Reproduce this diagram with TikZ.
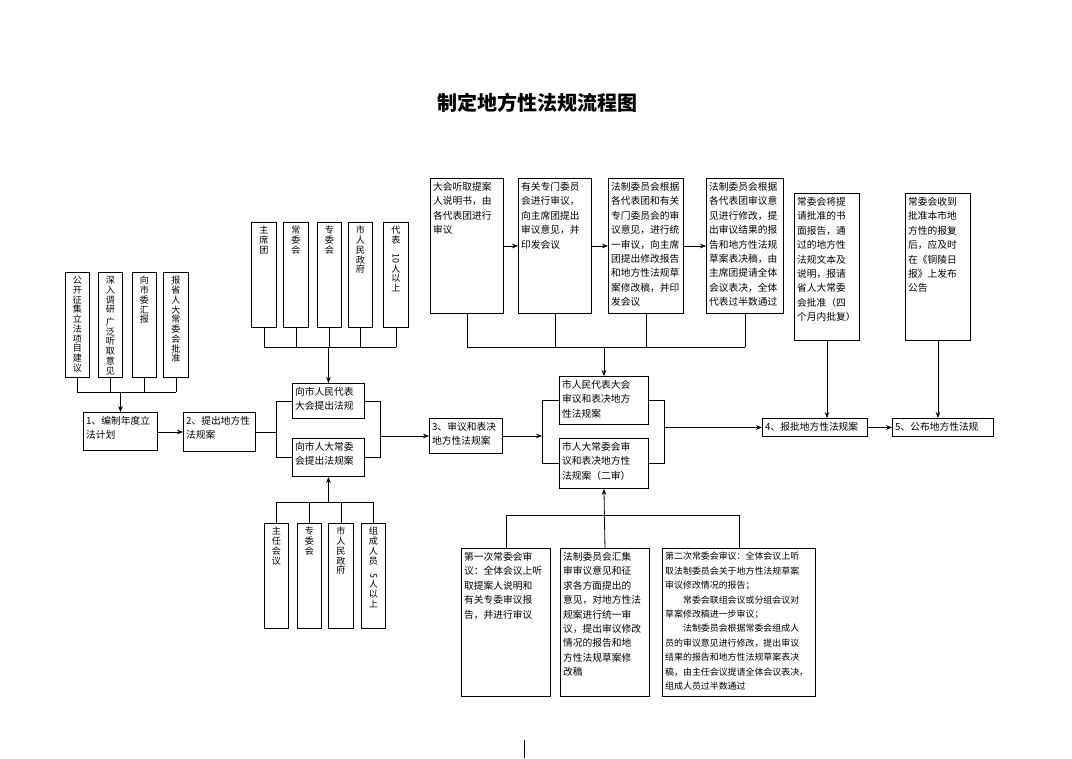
\documentclass[tikz,border=0pt]{standalone}
\usepackage{fontspec}
\setmainfont{Noto Sans CJK SC}
\usepackage{graphicx}
\usetikzlibrary{arrows.meta}
\newcommand\tb[6]{%
\pgfmathsetmacro\bw{(#4-#2)*0.75}\pgfmathsetmacro\bh{(#5-#3)*0.75}\pgfmathsetmacro\tw{(#4-#2)*0.75-4}%
\node[bx,anchor=north west,minimum width=\bw pt,minimum height=\bh pt] (#1) at (#2,#3) {};
\node[txt,text width=\tw pt] (#1t) at ([shift={(2.2pt,-3pt)}]#1.north west) {#6};}
\newcommand\vb[6]{%
\pgfmathsetmacro\bw{(#4-#2)*0.75}\pgfmathsetmacro\bh{(#5-#3)*0.75}%
\node[bx,anchor=north west,minimum width=\bw pt,minimum height=\bh pt] (#1) at (#2,#3) {};
\node[vtxt] (#1t) at ([yshift=-3pt]#1.north) {#6};}
\tikzset{
 bx/.style={draw,line width=0.7pt,inner sep=0pt},
 txt/.style={anchor=north west,inner sep=0pt,align=left,font=\fontsize{7.3}{10.8}\selectfont},
 vtxt/.style={anchor=north,inner sep=0pt,align=center,text width=9pt,font=\fontsize{6.8}{7.3}\selectfont},
 ln/.style={line width=0.6pt},
 ar/.style={line width=0.6pt,-{Stealth[length=4.5pt,width=3.5pt]}}
}
\begin{document}
\begin{tikzpicture}[x=0.75pt,y=-0.75pt]
\useasboundingbox (0,0) rectangle (1072,758);
\node[font=\fontsize{15}{18}\selectfont\bfseries] (title) at (537,103) {制定地方性法规流程图};
% left verticals
\vb{p1}{65}{272}{89}{377}{公\\开\\征\\集\\立\\法\\项\\目\\建\\议}
\vb{p2}{98}{272}{122}{377}{深\\入\\调\\研\\[2pt]广\\泛\\听\\取\\意\\见}
\vb{p3}{132}{272}{156}{377}{向\\市\\委\\汇\\报}
\vb{p4}{163}{272}{188}{377}{报\\省\\人\\大\\常\\委\\会\\批\\准}
\tb{s1}{83}{412}{157}{450}{1、编制年度立\\法计划}
\tb{s2}{183}{412}{255}{451}{2、提出地方性\\法规案}
% top verticals
\vb{q1}{251}{222}{276}{327}{主\\席\\团}
\vb{q2}{283}{222}{308}{327}{常\\委\\会}
\vb{q3}{317}{222}{341}{327}{专\\委\\会}
\vb{q4}{348}{222}{372}{327}{市\\人\\民\\政\\府}
\vb{q5}{383}{222}{408}{327}{代\\表\\\rotatebox{-90}{10}\\人\\以\\上}
\tb{m1}{292}{383}{364}{418}{向市人民代表\\大会提出法规}
\tb{m2}{292}{438}{364}{476}{向市人大常委\\会提出法规案}
% bottom verticals
\vb{r1}{264}{523}{288}{628}{主\\任\\会\\议}
\vb{r2}{297}{523}{321}{628}{专\\委\\会}
\vb{r3}{328}{523}{353}{628}{市\\人\\民\\政\\府}
\vb{r4}{361}{523}{385}{628}{组\\成\\人\\员\\\rotatebox{-90}{5}\\人\\以\\上}
\tb{s3}{429}{418}{502}{453}{3、审议和表决\\地方性法规案}
\tb{n1}{559}{376}{648}{424}{市人民代表大会\\审议和表决地方\\性法规案}
\tb{n2}{559}{438}{648}{488}{市人大常委会审\\议和表决地方性\\法规案（二审）}
% top row
\tb{A}{430}{178}{503}{313}{大会听取提案\\人说明书，由\\各代表团进行\\审议}
\tb{B}{518}{178}{591}{313}{有关专门委员\\会进行审议，\\向主席团提出\\审议意见，并\\印发会议}
\tb{C}{608}{178}{683}{313}{法制委员会根据\\各代表团和有关\\专门委员会的审\\议意见，进行统\\一审议，向主席\\团提出修改报告\\和地方性法规草\\案修改稿，并印\\发会议}
\tb{D}{706}{178}{783}{313}{法制委员会根据\\各代表团审议意\\见进行修改，提\\出审议结果的报\\告和地方性法规\\草案表决稿，由\\主席团提请全体\\会议表决，全体\\代表过半数通过}
% bottom row
\tb{E}{461}{548}{550}{696}{第一次常委会审\\议：全体会议上听\\取提案人说明和\\有关专委审议报\\告，并进行审议}
\tb{F}{560}{548}{649}{696}{法制委员会汇集\\审审议意见和征\\求各方面提出的\\意见，对地方性法\\规案进行统一审\\议，提出审议修改\\情况的报告和地\\方性法规草案修\\改稿}
\tb{G}{662}{548}{815}{696}{\fontsize{6.7}{10.8}\selectfont 第二次常委会审议：全体会议上听\\取法制委员会关于地方性法规草案\\审议修改情况的报告；\\\hspace*{2em}常委会联组会议或分组会议对\\草案修改稿进一步审议；\\\hspace*{2em}法制委员会根据常委会组成人\\员的审议意见进行修改，提出审议\\结果的报告和地方性法规草案表决\\稿，由主任会议提请全体会议表决，\\组成人员过半数通过}
% right
\tb{H}{794}{193}{859}{340}{常委会将提\\请批准的书\\面报告，通\\过的地方性\\法规文本及\\说明，报请\\省人大常委\\会批准（四\\个月内批复）}
\tb{I}{905}{193}{970}{340}{常委会收到\\批准本市地\\方性的报复\\后，应及时\\在《铜陵日\\报》上发布\\公告}
\tb{s4}{762}{418}{867}{436}{4、报批地方性法规案}
\tb{s5}{892}{418}{993}{436}{5、公布地方性法规}
% connectors
\coordinate (yL) at (0,392);
\coordinate (yT) at (0,347);
\coordinate (yB) at (0,502);
\coordinate (yT2) at (0,347);
\coordinate (yB2) at (0,515);
\coordinate (xbl) at (276,0);
\coordinate (xbr) at (380,0);
\coordinate (xcl) at (542,0);
\coordinate (xcr) at (664,0);
\foreach \p in {p1,p2,p3,p4} \draw[ln] (\p.south) -- (\p.south|-yL);
\draw[ln] (p1.south|-yL) -- (p4.south|-yL);
\draw[ar] (s1.north|-yL) -- (s1.north);
\draw[ar] (s1.east|-s2.east) -- (s2.west);
\foreach \p in {q1,q2,q3,q4,q5} \draw[ln] (\p.south) -- (\p.south|-yT);
\draw[ln] (q1.south|-yT) -- (q5.south|-yT);
\draw[ar] (m1.north|-yT) -- (m1.north);
\foreach \p in {r1,r2,r3,r4} \draw[ln] (\p.north) -- (\p.north|-yB);
\draw[ln] (r1.north|-yB) -- (r4.north|-yB);
\draw[ar] (m2.south|-yB) -- (m2.south);
\draw[ln] (m1.west) -| (xbl|-m2.west) -- (m2.west);
\draw[ln] (m1.east) -| (xbr|-m2.east) -- (m2.east);
\draw[ln] (s2.east) -- (s2.east-|xbl);
\draw[ar] (s3.west-|xbr) -- (s3.west);
\draw[ln] (n1.west) -| (xcl|-n2.west) -- (n2.west);
\draw[ln] (n1.east) -| (xcr|-n2.east) -- (n2.east);
\draw[ar] (s3.east) -- (s3.east-|xcl);
\draw[ar] (s4.west-|xcr) -- (s4.west);
\draw[ar] (A.east) -- (B.west);
\draw[ar] (B.east) -- (C.west);
\draw[ar] (C.east) -- (D.west);
\foreach \p in {A,B,C,D} \draw[ln] (\p.south) -- (\p.south|-yT2);
\draw[ln] (A.south|-yT2) -- (D.south|-yT2);
\draw[ar] (n1.north|-yT2) -- (n1.north);
\foreach \p in {E,G} \draw[ln] (\p.north) -- (\p.north|-yB2);
\draw[ln] (E.north|-yB2) -- (G.north|-yB2);
\draw[ar] (F.north) -- (n2.south);
\draw[ar] (H.south) -- (H.south|-s4.north);
\draw[ar] (I.south) -- (I.south|-s5.north);
\draw[ar] (s4.east) -- (s5.west);
\coordinate (art1) at (524,740);
\coordinate (art2) at (524,758);
\draw[ln] (art1) -- (art2);
\end{tikzpicture}
\end{document}
